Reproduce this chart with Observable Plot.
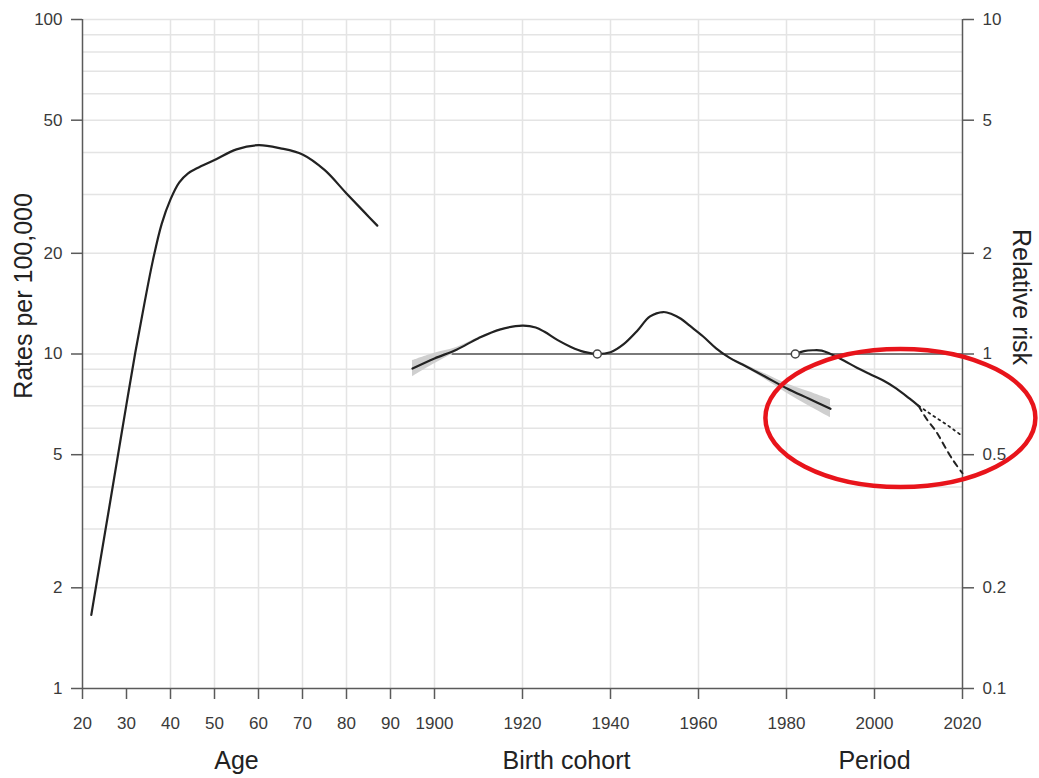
<!DOCTYPE html>
<html>
<head>
<meta charset="utf-8">
<script src="https://cdn.jsdelivr.net/npm/d3@7"></script>
<script src="https://cdn.jsdelivr.net/npm/@observablehq/plot@0.6"></script>
<style>
  body { margin: 0; background: #fff; }
  svg { font-family: "Liberation Sans", Arial, Helvetica, sans-serif; }
</style>
</head>
<body>
<div id="chart"></div>
<script>
// ---- Data ----
// Age effect: rates per 100,000
const ageValues  = [22, 24, 26, 28, 30, 32, 34, 36, 38, 40, 42, 44, 46, 50, 55, 60, 65, 70, 75, 80, 84, 87];
const ageRates   = [1.66, 2.39, 3.43, 4.93, 7.08, 10.1, 14.0, 19.05, 24.5, 29.0, 32.6, 34.7, 35.9, 38.0, 40.9, 42.1, 41.2, 39.5, 35.5, 30.2, 26.6, 24.2];

// Birth cohort effect: relative risk, with confidence band
const cohortYears = [1895, 1900, 1905, 1910, 1915, 1920, 1923, 1925, 1928, 1931, 1934, 1937, 1940, 1943, 1946, 1949, 1952, 1954, 1956, 1958, 1961, 1964, 1967, 1970, 1975, 1980, 1985, 1990];
const cohortRR    = [0.905, 0.97, 1.03, 1.115, 1.185, 1.215, 1.20, 1.165, 1.10, 1.05, 1.015, 1.0, 1.012, 1.07, 1.17, 1.295, 1.335, 1.315, 1.275, 1.215, 1.13, 1.04, 0.975, 0.93, 0.858, 0.79, 0.736, 0.686];
const cohortLo    = [0.855, 0.935, 1.015, 1.11, 1.182, 1.212, 1.197, 1.162, 1.097, 1.047, 1.012, 0.998, 1.01, 1.067, 1.167, 1.292, 1.332, 1.312, 1.272, 1.212, 1.127, 1.036, 0.97, 0.922, 0.842, 0.765, 0.70, 0.645];
const cohortHi    = [0.955, 1.005, 1.045, 1.12, 1.188, 1.218, 1.203, 1.168, 1.103, 1.053, 1.018, 1.002, 1.014, 1.073, 1.173, 1.298, 1.338, 1.318, 1.278, 1.218, 1.133, 1.044, 0.98, 0.938, 0.874, 0.815, 0.772, 0.73];

// Period effect: relative risk
const periodYears = [1982, 1984, 1986, 1988, 1990, 1993, 1996, 1999, 2002, 2005, 2008, 2010];
const periodRR    = [1.0, 1.02, 1.026, 1.024, 1.0, 0.956, 0.91, 0.87, 0.833, 0.788, 0.735, 0.70];

// Period projections
const projYears   = [2010, 2012, 2014, 2016, 2018, 2020];
const projDotted  = [0.70, 0.672, 0.645, 0.62, 0.594, 0.568];
const projDashed  = [0.70, 0.635, 0.587, 0.528, 0.478, 0.44];

// Reference points (RR = 1)
const refYears = [1937, 1982];
const refLineYears = [1904, 2020];

// Axis ticks
const ageTicks   = [20, 30, 40, 50, 60, 70, 80, 90];
const yearTicks  = [1900, 1920, 1940, 1960, 1980, 2000, 2020];
const ageGrid    = [40, 50, 60, 70, 80, 90];
const yearGrid   = [1900, 1920, 1940, 1960, 1980, 2000];
const rateTicks  = [1, 2, 5, 10, 20, 50, 100];
const rateGrid   = [2, 3, 4, 5, 6, 7, 8, 9, 10, 20, 30, 40, 50, 60, 70, 80, 90, 100];
const rrTicks    = [0.1, 0.2, 0.5, 1, 2, 5, 10];

// Calendar years share the age axis: year - 1800 (1900 sits one decade after age 90)
const YEAR_SHIFT = 1800;
const RR_FACTOR = 10; // right axis = left axis / 10
const yx = y => y - YEAR_SHIFT;

const ageData = ageValues.map((a, i) => ({x: a, y: ageRates[i]}));
const cohortData = cohortYears.map((c, i) => ({x: yx(c), y: cohortRR[i] * RR_FACTOR, lo: cohortLo[i] * RR_FACTOR, hi: cohortHi[i] * RR_FACTOR}));
const periodData = periodYears.map((p, i) => ({x: yx(p), y: periodRR[i] * RR_FACTOR}));
const dottedData = projYears.map((p, i) => ({x: yx(p), y: projDotted[i] * RR_FACTOR}));
const dashedData = projYears.map((p, i) => ({x: yx(p), y: projDashed[i] * RR_FACTOR}));
const refData = refYears.map(r => ({x: yx(r), y: RR_FACTOR}));

const xTickValues = [...ageTicks, ...yearTicks.map(yx)];
const xGridValues = [...ageGrid, ...yearGrid.map(yx)];
const xLabel = d => d < 100 ? String(d) : String(d + YEAR_SHIFT);

const axisColor = "#5a5a5a";
const textColor = "#3a3a3a";
const gridColor = "#e4e4e4";
const lineColor = "#222";

const plot = Plot.plot({
  width: 1039,
  height: 778,
  marginLeft: 82,
  marginRight: 77,
  marginTop: 19,
  marginBottom: 90,
  x: {domain: [20, 220]},
  y: {type: "log", domain: [1, 100]},
  style: {fontFamily: '"Liberation Sans", Arial, Helvetica, sans-serif', background: "#fff"},
  marks: [
    Plot.gridY(rateGrid, {stroke: gridColor, strokeOpacity: 1, strokeWidth: 1.5}),
    Plot.gridX(xGridValues, {stroke: gridColor, strokeOpacity: 1, strokeWidth: 1.5}),
    Plot.ruleX([20, 220], {stroke: axisColor, strokeWidth: 1.5}),
    Plot.ruleY([1], {stroke: axisColor, strokeWidth: 1.5}),
    Plot.axisY(rateTicks, {anchor: "left", tickSize: 11, tickPadding: 9, label: null, tickFormat: d => String(d), fontSize: 17, fill: textColor, stroke: axisColor, strokeWidth: 1.5}),
    Plot.axisY(rrTicks.map(r => r * RR_FACTOR), {anchor: "right", tickSize: 11, tickPadding: 9, label: null, tickFormat: d => String(d / RR_FACTOR), fontSize: 17, fill: textColor, stroke: axisColor, strokeWidth: 1.5}),
    Plot.axisX(xTickValues, {anchor: "bottom", tickSize: 11, tickPadding: 17, label: null, tickFormat: xLabel, fontSize: 17, fill: textColor, stroke: axisColor, strokeWidth: 1.5}),
    // reference line at RR = 1
    Plot.ruleY([RR_FACTOR], {x1: yx(refLineYears[0]), x2: yx(refLineYears[1]), stroke: "#555", strokeWidth: 1.5}),
    // cohort confidence band
    Plot.areaY(cohortData, {x: "x", y1: "lo", y2: "hi", fill: "#cfcfcf", curve: "catmull-rom"}),
    Plot.line(ageData, {x: "x", y: "y", stroke: lineColor, strokeWidth: 2.2, curve: "catmull-rom"}),
    Plot.line(cohortData, {x: "x", y: "y", stroke: lineColor, strokeWidth: 2.2, curve: "catmull-rom"}),
    Plot.line(periodData, {x: "x", y: "y", stroke: lineColor, strokeWidth: 2.2, curve: "catmull-rom"}),
    Plot.line(dottedData, {x: "x", y: "y", stroke: lineColor, strokeWidth: 1.8, strokeDasharray: "2,4", curve: "catmull-rom"}),
    Plot.line(dashedData, {x: "x", y: "y", stroke: lineColor, strokeWidth: 2, strokeDasharray: "6,5", curve: "catmull-rom"}),
    Plot.dot(refData, {x: "x", y: "y", r: 4, fill: "#fff", stroke: "#444", strokeWidth: 1.5}),
    // axis titles
    Plot.text(["Age"], {x: 55, frameAnchor: "bottom", dy: 80, fontSize: 25, fill: "#222"}),
    Plot.text(["Birth cohort"], {x: yx(1930), frameAnchor: "bottom", dy: 80, fontSize: 25, fill: "#222"}),
    Plot.text(["Period"], {x: yx(2000), frameAnchor: "bottom", dy: 80, fontSize: 25, fill: "#222"}),
    Plot.text(["Rates per 100,000"], {frameAnchor: "left", textAnchor: "middle", rotate: -90, dx: -59, dy: -58, fontSize: 25, fill: "#222"}),
    Plot.text(["Relative risk"], {frameAnchor: "right", textAnchor: "middle", rotate: 90, dx: 58, dy: -57, fontSize: 25, fill: "#222"})
  ]
});

// Red highlight ellipse annotation around the period projections
const sx = plot.scale("x"), sy = plot.scale("y");
const cx = sx.apply(yx(2006)), cy = sy.apply(6.42);
d3.select(plot).append("ellipse")
  .attr("cx", cx).attr("cy", cy)
  .attr("rx", 135).attr("ry", 69)
  .attr("fill", "none").attr("stroke", "#e8141b").attr("stroke-width", 4.5);

document.getElementById("chart").appendChild(plot);
</script>
</body>
</html>
